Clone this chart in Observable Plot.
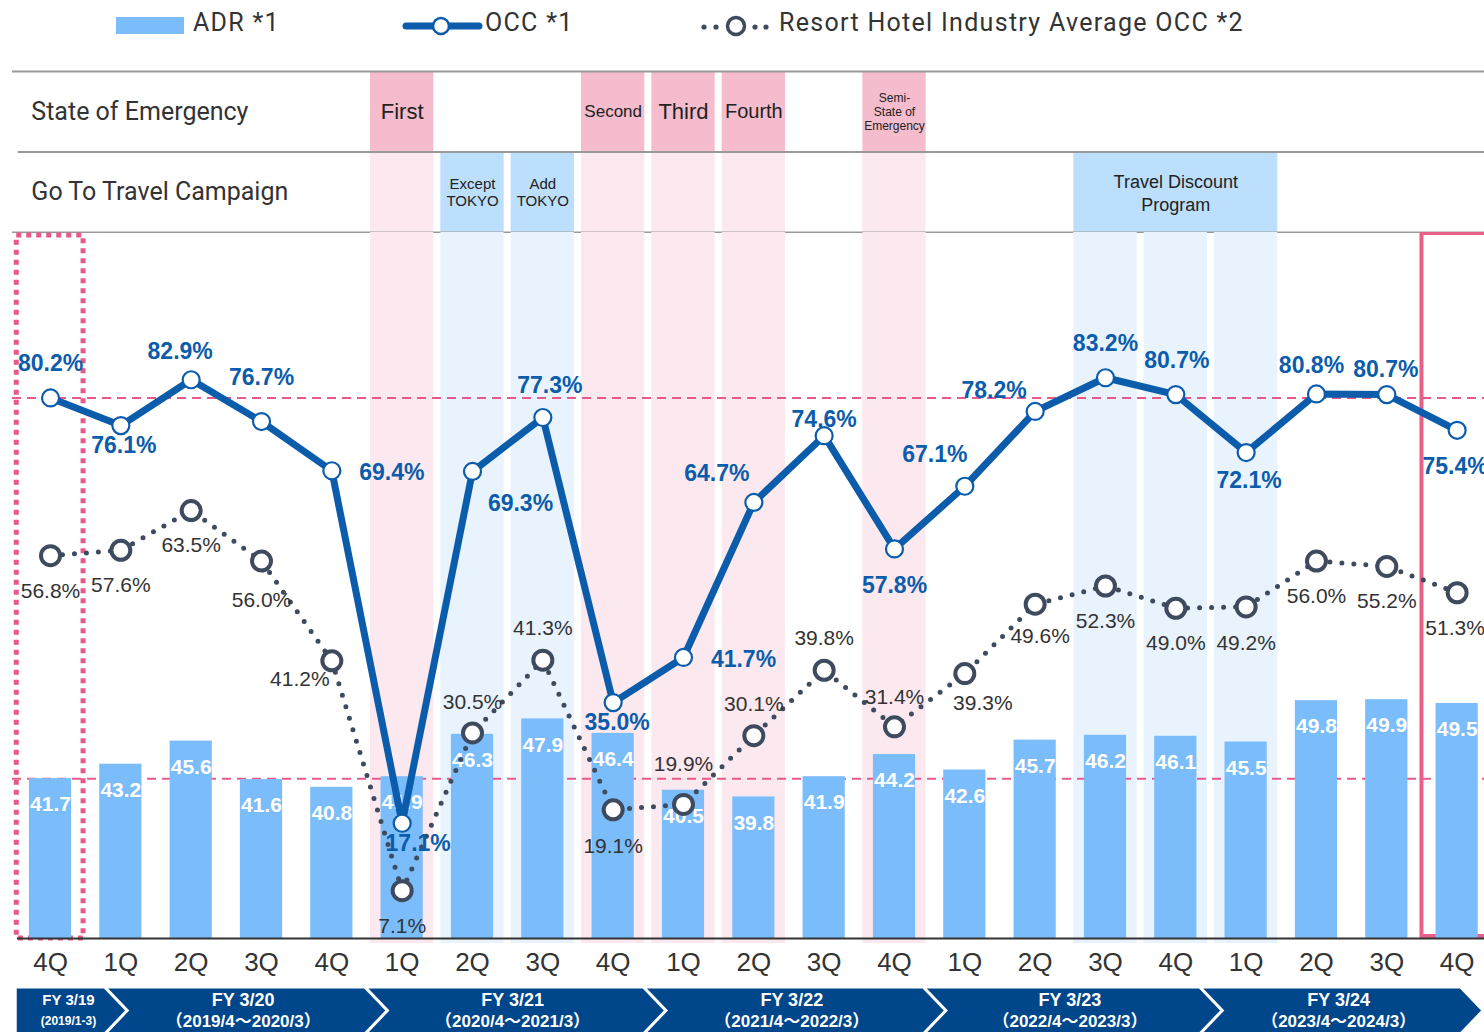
<!DOCTYPE html>
<html><head><meta charset="utf-8">
<script src="https://cdn.jsdelivr.net/npm/d3@7"></script>
<script src="https://cdn.jsdelivr.net/npm/@observablehq/plot@0.6"></script>
<style>
html,body{margin:0;padding:0;background:#fff;overflow:hidden;width:1484px;height:1032px}
#root{position:relative;width:1484px;height:1032px}
#root > *{position:absolute;left:0}
</style></head>
<body><div id="root"></div>
<script>
// ---------- data ----------
const quarters = ["4Q","1Q","2Q","3Q","4Q","1Q","2Q","3Q","4Q","1Q","2Q","3Q","4Q","1Q","2Q","3Q","4Q","1Q","2Q","3Q","4Q"];
const adr = [41.7,43.2,45.6,41.6,40.8,41.9,46.3,47.9,46.4,40.5,39.8,41.9,44.2,42.6,45.7,46.2,46.1,45.5,49.8,49.9,49.5];
const occ = [80.2,76.1,82.9,76.7,69.4,17.1,69.3,77.3,35.0,41.7,64.7,74.6,57.8,67.1,78.2,83.2,80.7,72.1,80.8,80.7,75.4];
const industryOcc = [56.8,57.6,63.5,56.0,41.2,7.1,30.5,41.3,19.1,19.9,30.1,39.8,31.4,39.3,49.6,52.3,49.0,49.2,56.0,55.2,51.3];
const fyNames = ["FY 3/19","FY 3/20","FY 3/21","FY 3/22","FY 3/23","FY 3/24"];
const fyPeriods = ["(2019/1-3)","（2019/4～2020/3）","（2020/4～2021/3）","（2021/4～2022/3）","（2022/4～2023/3）","（2023/4～2024/3）"];
const emergencyLabels = ["First","Second","Third","Fourth","Semi-\nState of\nEmergency"];
const emergencyQuarters = [5,8,9,10,12];
const goToLabels = ["Except\nTOKYO","Add\nTOKYO","Travel Discount\nProgram"];
const goToStart = [6,7,15];
const goToEnd = [6,7,17];
const rowLabels = ["State of Emergency","Go To Travel Campaign"];
const legendLabels = ["ADR *1","OCC *1","Resort Hotel Industry Average OCC *2"];

// ---------- layout / style (not data) ----------
const W = 1484;
const X = {type:"linear", domain:[-0.5,20.5], range:[14.85,1491.8]};
const FONT = "'Liberation Sans', Arial, 'Noto Sans CJK JP', sans-serif";
const NARROW = "'Liberation Sans Narrow', 'Arial Narrow', 'Liberation Sans', Arial, sans-serif";
const LFONT = "Roboto, 'Noto Sans', sans-serif";
const BLUE = "#0b5cab", GRAY = "#3e4a5e", PINK = "#e9588a", BAR = "#7bbcfb";
const emergencySize = [22,17,22,20,12];
const fyEdges = [-0.48,0.79,4.49,8.45,12.43,16.36,20.07];
const occLabelOffset = [[0,-34],[3,20],[-11,-28],[0,-44],[60,2],[16,20],[48,32],[7,-32],[4,20],[60,2],[-37,-29],[0,-16],[0,37],[-30,-32],[-41,-21],[0,-34],[1,-34],[3,28],[-5,-28],[-1,-25],[-2,36]];
const indLabelOffset = [[0,36],[0,35],[0,35],[0,39],[-32,18],[0,36],[0,-31],[0,-32],[0,36],[0,-40],[0,-31],[0,-32],[0,-30],[18,30],[5,32],[0,35],[0,35],[0,36],[0,35],[0,35],[-2,36]];
// ADR shares the vertical space with OCC: ADR axis starts at 25.1, 9.63px per unit vs 6.74px per OCC point
const adrToY = v => (v - 25.1) * (9.63 / 6.74);

const root = document.getElementById("root");
const idx = d3.range(quarters.length);
const rows = idx.map(i => ({i, q: quarters[i], adr: adr[i], adrY: adrToY(adr[i]), occ: occ[i], ind: industryOcc[i]}));

// ---------- legend ----------
const lg = d3.create("svg").attr("width", W).attr("height", 70).style("top","0px");
lg.append("rect").attr("x",116).attr("y",17).attr("width",68).attr("height",17).attr("fill",BAR);
lg.append("line").attr("x1",406).attr("x2",479).attr("y1",26).attr("y2",26).attr("stroke",BLUE).attr("stroke-width",7).attr("stroke-linecap","round");
lg.append("circle").attr("cx",441).attr("cy",26).attr("r",8).attr("fill","white").attr("stroke",BLUE).attr("stroke-width",2.5);
for (const cx of [704,716,755,766]) lg.append("circle").attr("cx",cx).attr("cy",27).attr("r",2.6).attr("fill",GRAY);
lg.append("circle").attr("cx",736).attr("cy",26).attr("r",8.5).attr("fill","white").attr("stroke",GRAY).attr("stroke-width",3.5);
[[193],[485],[779]].forEach(([x],k) => lg.append("text").attr("x",x).attr("y",31).attr("font-family",LFONT).attr("font-size",25).attr("letter-spacing","1.3px").attr("fill","#333").text(legendLabels[k]));
root.appendChild(lg.node());

// ---------- header rows ----------
const header = Plot.plot({
  width: W, height: 163, marginTop: 1, marginBottom: 1, marginLeft: 0, marginRight: 0,
  x: {...X, axis: null},
  y: {domain:[0,2], reverse: true, axis: null},
  style: {fontFamily: FONT, background: "transparent"},
  marks: [
    Plot.rect(emergencyQuarters, {x1: q => q - 0.45, x2: q => q + 0.45, y1: () => 0, y2: () => 1, fill: "#f4bccd"}),
    Plot.rect(emergencyQuarters, {x1: q => q - 0.45, x2: q => q + 0.45, y1: () => 1, y2: () => 2, fill: "#fce9ef"}),
    Plot.rect(d3.range(goToLabels.length), {x1: k => goToStart[k] - 0.45, x2: k => goToEnd[k] + 0.45, y1: () => 1, y2: () => 2, fill: "#bcdffd"}),
    Plot.ruleY([0], {x1: () => -0.54, x2: () => 20.6, stroke: "#999", strokeWidth: 2}),
    Plot.ruleY([1], {x1: () => -0.46, x2: () => 20.6, stroke: "#999", strokeWidth: 2}),
    Plot.ruleY([2], {x1: () => -0.54, x2: () => 20.6, stroke: "#999", strokeWidth: 2}),
    Plot.text(rowLabels, {x: () => -0.5, y: (d, k) => k + 0.5, text: d => d, dx: 16, textAnchor: "start", fontSize: 25, fill: "#333", fontFamily: LFONT}),
    Plot.text(d3.range(4), {x: k => emergencyQuarters[k], y: () => 0.5, text: k => emergencyLabels[k], fontSize: k => emergencySize[k], fill: "#222", fontFamily: NARROW}),
    Plot.text([4], {x: k => emergencyQuarters[k], y: () => 0.5, text: k => emergencyLabels[k], fontSize: 12, lineHeight: 1.15, fill: "#222", fontFamily: NARROW}),
    Plot.text([0,1], {x: k => (goToStart[k] + goToEnd[k]) / 2, y: () => 1.5, text: k => goToLabels[k], fontSize: 15, lineHeight: 1.13, fill: "#222", fontFamily: NARROW}),
    Plot.text([2], {x: k => (goToStart[k] + goToEnd[k]) / 2, y: () => 1.5, text: k => goToLabels[k], fontSize: 18, lineHeight: 1.28, fill: "#222", fontFamily: NARROW})
  ]
});
header.style.top = "70px";
root.appendChild(header);

// ---------- main chart ----------
const goToShade = goToStart.flatMap((s, k) => d3.range(s, goToEnd[k] + 1));
const main = Plot.plot({
  width: W, height: 753, marginTop: 0, marginBottom: 47, marginLeft: 0, marginRight: 0,
  x: X,
  y: {domain:[0,104.75], axis: null},
  style: {fontFamily: FONT, background: "transparent"},
  marks: [
    Plot.rect(emergencyQuarters, {x1: q => q - 0.45, x2: q => q + 0.45, fill: "#fce9ef", insetBottom: -5}),
    Plot.rect(goToShade, {x1: q => q - 0.45, x2: q => q + 0.45, fill: "#e8f3fe", insetBottom: -5}),
    Plot.ruleY([occ[0], adrToY(adr[0])], {x1: () => -0.54, x2: () => 20.6, stroke: PINK, strokeWidth: 2, strokeDasharray: "9,6"}),
    Plot.rect([0], {x1: () => -0.48, x2: () => 0.47, fill: "none", stroke: PINK, strokeWidth: 5, strokeDasharray: "5,5", insetTop: 3}),
    Plot.rect([20], {x1: () => 19.5, x2: () => 20.7, fill: "none", stroke: "#e8608a", strokeWidth: 4, insetTop: 1, insetBottom: 2}),
    Plot.rect(rows, {x1: d => d.i - 0.3, x2: d => d.i + 0.3, y1: () => 0, y2: "adrY", fill: BAR}),
    Plot.text(rows, {x: "i", y: "adrY", text: d => d.adr.toFixed(1), dy: 26, fill: "white", fontWeight: "bold", fontSize: 21}),
    Plot.ruleY([0], {x1: () => -0.47, x2: () => 20.6, stroke: "#333", strokeWidth: 2}),
    Plot.line(rows, {x: "i", y: "ind", stroke: GRAY, strokeWidth: 5, strokeDasharray: "0,12", strokeLinecap: "round"}),
    Plot.dot(rows, {x: "i", y: "ind", r: 9.5, fill: "white", stroke: GRAY, strokeWidth: 4}),
    Plot.line(rows, {x: "i", y: "occ", stroke: BLUE, strokeWidth: 7, strokeLinejoin: "round"}),
    Plot.dot(rows, {x: "i", y: "occ", r: 8.5, fill: "white", stroke: BLUE, strokeWidth: 2.2}),
    ...rows.map(d => Plot.text([d], {x: "i", y: "ind", text: r => r.ind.toFixed(1) + "%", dx: indLabelOffset[d.i][0], dy: indLabelOffset[d.i][1], fontSize: 21, fill: "#333"})),
    ...rows.map(d => Plot.text([d], {x: "i", y: "occ", text: r => r.occ.toFixed(1) + "%", dx: occLabelOffset[d.i][0], dy: occLabelOffset[d.i][1], fontSize: 23, fontWeight: "bold", fill: BLUE})),
    Plot.axisX({ticks: idx, tickFormat: i => quarters[i], tickSize: 0, tickPadding: 14, fontSize: 26, color: "#333", label: null})
  ]
});
main.style.top = "232px";
root.appendChild(main);

// ---------- fiscal year band ----------
const tip = 0.3, gap = 0.03;
const poly = [];
fyNames.forEach((n, k) => {
  const s = fyEdges[k] + (k > 0 ? gap : 0), e = fyEdges[k + 1] - gap;
  const pts = [[s,1],[e,1],[e + tip,0.5],[e,0],[s,0]];
  if (k > 0) pts.push([s + tip, 0.5]);
  pts.forEach(([x,y]) => poly.push({k, x, y}));
});
const fyIdx = d3.range(fyNames.length);
const fy = Plot.plot({
  width: W, height: 47, marginTop: 3, marginBottom: 0, marginLeft: 0, marginRight: 0,
  x: {...X, axis: null},
  y: {domain:[0,1], axis: null},
  style: {fontFamily: FONT, background: "transparent"},
  marks: [
    Plot.line(poly, {x: "x", y: "y", z: "k", fill: "#00468b", stroke: "none", curve: "linear-closed"}),
    Plot.text([0], {x: k => (fyEdges[k] + fyEdges[k+1]) / 2 + 0.1, y: () => 0.73, text: k => fyNames[k], fill: "white", fontWeight: "bold", fontSize: 15}),
    Plot.text([0], {x: k => (fyEdges[k] + fyEdges[k+1]) / 2 + 0.1, y: () => 0.26, text: k => fyPeriods[k], fill: "white", fontWeight: "bold", fontSize: 12}),
    Plot.text(fyIdx.slice(1), {x: k => (fyEdges[k] + fyEdges[k+1]) / 2 + 0.1, y: () => 0.73, text: k => fyNames[k], fill: "white", fontWeight: "bold", fontSize: 18}),
    Plot.text(fyIdx.slice(1), {x: k => (fyEdges[k] + fyEdges[k+1]) / 2 + 0.1, y: () => 0.26, text: k => fyPeriods[k], fill: "white", fontWeight: "bold", fontSize: 17})
  ]
});
fy.style.top = "985px";
root.appendChild(fy);
</script></body></html>
